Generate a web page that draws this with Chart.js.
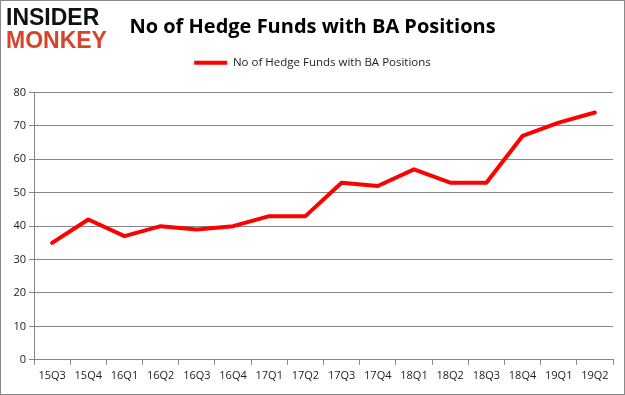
<!DOCTYPE html>
<html>
<head>
<meta charset="utf-8">
<script src="https://cdn.jsdelivr.net/npm/chart.js@4/dist/chart.umd.min.js"></script>
<style>
  html, body { margin: 0; padding: 0; background: #fff; }
  #wrap { position: relative; width: 623px; height: 393px; border: 1px solid #898989; }
  #chart { position: absolute; left: 0; top: 0; }
  .logo { position: absolute; left: 5px; font-family: "Liberation Sans", Arial, sans-serif;
          font-weight: bold; font-size: 23px; line-height: 23px; }
  #logo1 { top: 5px; color: #111; }
  #logo2 { top: 28px; color: #d8432c; }
</style>
</head>
<body>
<div id="wrap">
  <canvas id="chart" width="623" height="393"></canvas>
  <div class="logo" id="logo1">INSIDER</div>
  <div class="logo" id="logo2">MONKEY</div>
</div>
<script>
const quarters = ["15Q3", "15Q4", "16Q1", "16Q2", "16Q3", "16Q4", "17Q1", "17Q2",
                  "17Q3", "17Q4", "18Q1", "18Q2", "18Q3", "18Q4", "19Q1", "19Q2"];
const fundCounts = [35, 42, 37, 40, 39, 40, 43, 43, 53, 52, 57, 53, 53, 67, 71, 74];
const seriesName = "No of Hedge Funds with BA Positions";
const titleText = "No of Hedge Funds with BA Positions";

const gridGray = "#868686";
const textFont = "'Open Sans', 'Liberation Sans', sans-serif";

const ctx = document.getElementById("chart");

new Chart(ctx, {
  type: "line",
  data: {
    labels: quarters,
    datasets: [{
      label: seriesName,
      data: fundCounts,
      borderColor: "#ff0000",
      backgroundColor: "#ff0000",
      borderWidth: 4,
      pointRadius: 0,
      tension: 0,
      borderCapStyle: "round",
      borderJoinStyle: "round"
    }]
  },
  options: {
    responsive: false,
    animation: false,
    layout: { padding: { top: 8, left: 11, right: 11, bottom: 8 } },
    plugins: {
      title: {
        display: true,
        text: titleText,
        color: "#000",
        font: { family: "'Open Sans', sans-serif", size: 20, weight: "bold" },
        padding: { top: 6, bottom: 8 }
      },
      legend: {
        display: true,
        labels: {
          color: "#222",
          font: { family: textFont, size: 11.5 },
          usePointStyle: true,
          pointStyle: "line",
          pointStyleWidth: 33,
          boxHeight: 4,
          padding: 10
        }
      },
      tooltip: { enabled: false }
    },
    scales: {
      x: {
        offset: true,
        grid: { offset: true, drawOnChartArea: false, drawTicks: true, tickLength: 5, color: gridGray },
        border: { color: gridGray },
        ticks: { color: "#222", font: { family: textFont, size: 11 }, maxRotation: 0, autoSkip: false, padding: 4 }
      },
      // empty top axis, only used as a gap under the legend
      gap: {
        type: "category",
        position: "top",
        grid: { display: false },
        border: { display: false },
        ticks: { display: false },
        afterFit: (scale) => { scale.height = 14; }
      },
      y: {
        min: 0,
        max: 80,
        grid: { color: gridGray, tickLength: 5 },
        border: { color: gridGray },
        ticks: { stepSize: 10, color: "#222", font: { family: textFont, size: 11 }, padding: 3 },
        afterFit: (scale) => { scale.width = 22; }
      }
    }
  }
});
</script>
</body>
</html>
